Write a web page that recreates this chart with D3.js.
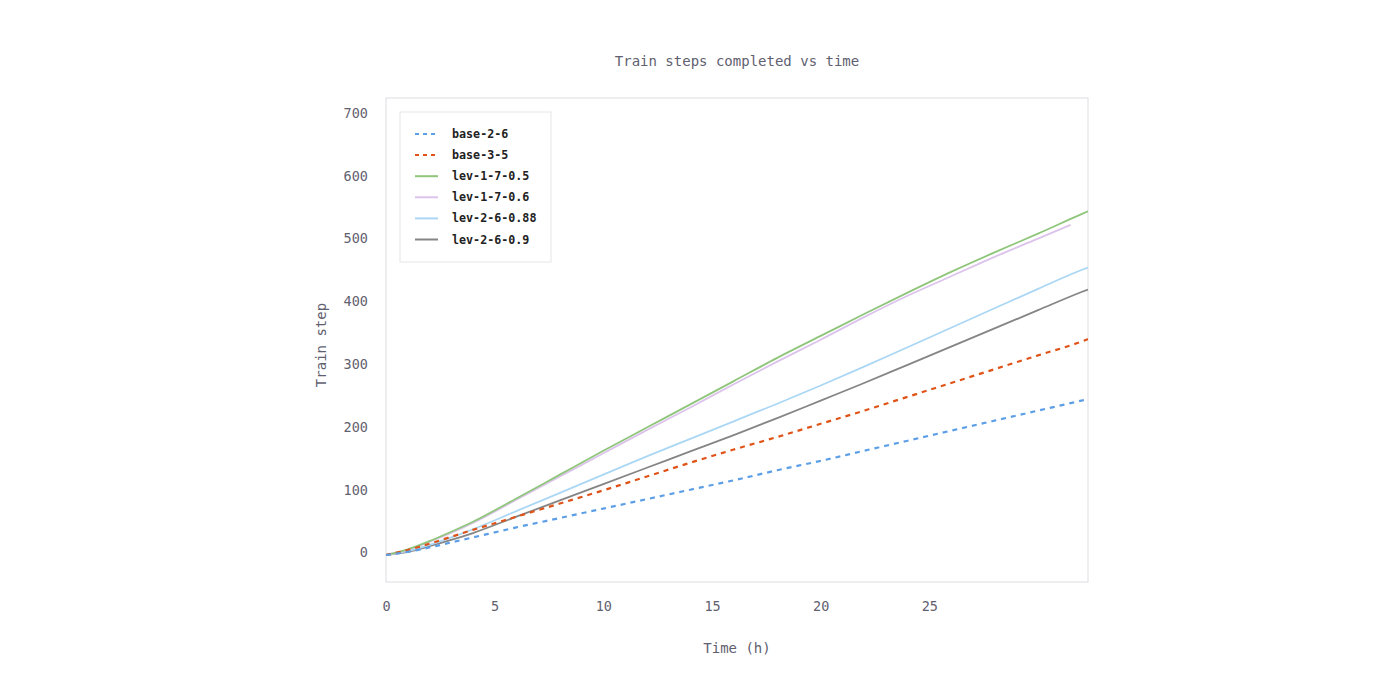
<!DOCTYPE html>
<html>
<head>
<meta charset="utf-8">
<script src="https://cdn.jsdelivr.net/npm/d3@7"></script>
<style>
  html, body { margin: 0; padding: 0; background: #ffffff; }
  svg { display: block; }
</style>
</head>
<body>
<svg id="chart" width="1400" height="700"></svg>
<script>
// ---- data ----
const title = "Train steps completed vs time";
const xLabel = "Time (h)";
const yLabel = "Train step";
const xTicks = [0, 5, 10, 15, 20, 25];
const yTicks = [0, 100, 200, 300, 400, 500, 600, 700];

const seriesNames = ["base-2-6", "base-3-5", "lev-1-7-0.5", "lev-1-7-0.6", "lev-2-6-0.88", "lev-2-6-0.9"];

const hoursA = [0, 1, 2, 3, 4, 6, 8, 10, 12, 14, 16, 18, 20, 22, 24, 26, 28, 30, 32, 32.3];
const base26   = [-4, 1, 8, 16, 24, 40, 55, 70, 85, 100, 115, 131, 146, 162, 178, 194, 210, 226, 242, 244.5];
const base35   = [-4, 4, 14, 25, 36, 57, 78, 99, 121, 143, 164, 184, 205, 226, 248, 270, 292, 314, 336, 340];
const lev17_05 = [-4, 5, 18, 33, 49, 86, 124, 162, 199, 236, 273, 310, 345, 380, 414, 447, 478, 508, 539, 543.5];
const lev226_088 = [-4, 2, 12, 24, 37, 66, 95, 124, 153, 181, 209, 237, 266, 296, 327, 358, 389, 420, 450, 454];
const lev26_09 = [-4, 1, 10, 20, 31, 57, 83, 109, 135, 161, 187, 214, 242, 270, 299, 328, 357, 386, 415, 419];
const hoursB = [0, 1, 2, 3, 4, 6, 8, 10, 12, 14, 16, 18, 20, 22, 24, 26, 28, 30, 31.5];
const lev17_06 = [-4, 4, 17, 31, 47, 84, 121, 158, 195, 231, 268, 304, 339, 375, 409, 440, 471, 500, 522];

const seriesX = [hoursA, hoursA, hoursA, hoursB, hoursA, hoursA];
const seriesY = [base26, base35, lev17_05, lev17_06, lev226_088, lev26_09];

// ---- styles ----
const colors = ["#5d9fe6", "#df5318", "#8fc67b", "#dcc3ec", "#abd7f4", "#858585"];
const dashes = ["5,5", "5,5", null, null, null, null];

const svg = d3.select("#chart");
const margin = { left: 386, right: 312, top: 98, bottom: 118 };
const W = 1400, H = 700;
const x = d3.scaleLinear().domain([0, 32.3]).range([margin.left, W - margin.right]);
const y = d3.scaleLinear().domain([-47, 724]).range([H - margin.bottom, margin.top]);

const font = "'DejaVu Sans Mono', 'Liberation Mono', monospace";
const textColor = "#5f6170";

// frame
svg.append("rect")
  .attr("x", margin.left).attr("y", margin.top)
  .attr("width", W - margin.right - margin.left)
  .attr("height", H - margin.bottom - margin.top)
  .attr("fill", "none").attr("stroke", "#e3e3e6").attr("stroke-width", 1.2);

// title
svg.append("text")
  .attr("x", (margin.left + W - margin.right) / 2).attr("y", 66)
  .attr("text-anchor", "middle")
  .attr("font-family", font).attr("font-size", 14).attr("fill", textColor)
  .text(title);

// axes
const xAxis = d3.axisBottom(x).tickValues(xTicks).tickSize(0).tickPadding(0).tickFormat(d3.format("d"));
const gx = svg.append("g").attr("transform", `translate(0, ${H - margin.bottom + 19})`).call(xAxis);
gx.select(".domain").remove();
gx.selectAll("text").attr("font-family", font).attr("font-size", 13.5).attr("fill", textColor);

const yAxis = d3.axisLeft(y).tickValues(yTicks).tickSize(0).tickPadding(0).tickFormat(d3.format("d"));
const gy = svg.append("g").attr("transform", `translate(${margin.left - 18}, 0)`).call(yAxis);
gy.select(".domain").remove();
gy.selectAll("text").attr("font-family", font).attr("font-size", 13.5).attr("fill", textColor);

// axis titles
svg.append("text")
  .attr("x", (margin.left + W - margin.right) / 2).attr("y", 653)
  .attr("text-anchor", "middle")
  .attr("font-family", font).attr("font-size", 14).attr("fill", textColor)
  .text(xLabel);
svg.append("text")
  .attr("transform", `translate(326, ${(margin.top + H - margin.bottom) / 2 + 5}) rotate(-90)`)
  .attr("text-anchor", "middle")
  .attr("font-family", font).attr("font-size", 14).attr("fill", textColor)
  .text(yLabel);

// lines
const line = d3.line().x(d => x(d[0])).y(d => y(d[1])).curve(d3.curveMonotoneX);
svg.append("clipPath").attr("id", "plotclip").append("rect")
  .attr("x", margin.left).attr("y", margin.top)
  .attr("width", W - margin.right - margin.left).attr("height", H - margin.bottom - margin.top);

const drawOrder = [5, 4, 3, 2, 1, 0];
const gl = svg.append("g").attr("clip-path", "url(#plotclip)");
drawOrder.forEach(i => {
  const pts = seriesX[i].map((h, k) => [h, seriesY[i][k]]);
  const p = gl.append("path")
    .attr("d", line(pts))
    .attr("fill", "none")
    .attr("stroke", colors[i])
    .attr("stroke-width", i < 2 ? 2.2 : 1.8);
  if (dashes[i]) p.attr("stroke-dasharray", dashes[i]);
});

// legend
const lg = svg.append("g").attr("transform", "translate(400, 112)");
lg.append("rect").attr("x", 0).attr("y", 0).attr("width", 151).attr("height", 150)
  .attr("fill", "#ffffff").attr("stroke", "#e6e6e8").attr("stroke-width", 1);
seriesNames.forEach((name, i) => {
  const cy = 22 + i * 21.1;
  const l = lg.append("line").attr("x1", 15).attr("x2", 38).attr("y1", cy).attr("y2", cy)
    .attr("stroke", colors[i]).attr("stroke-width", 2);
  if (dashes[i]) l.attr("stroke-dasharray", "4,4");
  lg.append("text").attr("x", 52).attr("y", cy + 4)
    .attr("font-family", font).attr("font-size", 11.7).attr("font-weight", "bold")
    .attr("fill", "#222222").text(name);
});
</script>
</body>
</html>
